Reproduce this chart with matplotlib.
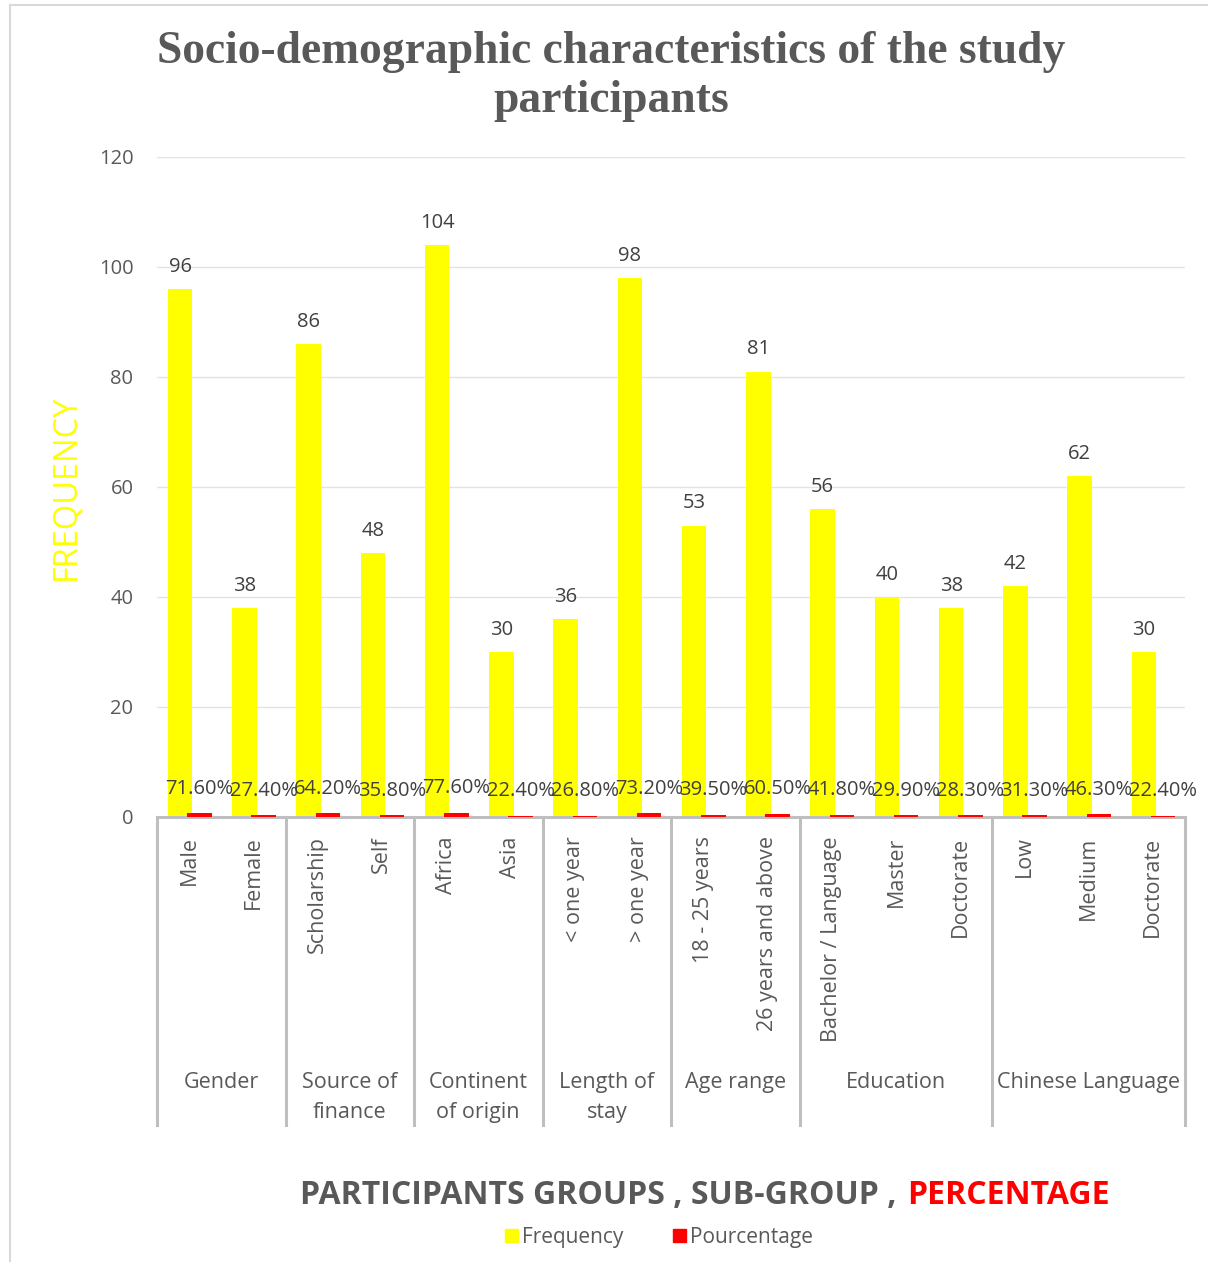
import numpy as np
import matplotlib
matplotlib.use("Agg")
import matplotlib.pyplot as plt
from matplotlib.patches import Patch
from matplotlib.lines import Line2D

# data
subgroups = ["Male", "Female", "Scholarship", "Self", "Africa", "Asia",
             "< one year", "> one year", "18 - 25 years", "26 years and above",
             "Bachelor / Language", "Master", "Doctorate", "Low", "Medium", "Doctorate"]
frequency = [96, 38, 86, 48, 104, 30, 36, 98, 53, 81, 56, 40, 38, 42, 62, 30]
percentage = [0.716, 0.274, 0.642, 0.358, 0.776, 0.224, 0.268, 0.732,
              0.395, 0.605, 0.418, 0.299, 0.283, 0.313, 0.463, 0.224]
groups = ["Gender", "Source of\nfinance", "Continent\nof origin", "Length of\nstay",
          "Age range", "Education", "Chinese Language"]
group_sizes = [2, 2, 2, 2, 2, 3, 3]
title_lines = ["Socio-demographic characteristics of the study", "participants"]

W, H = 1208, 1262
TXT = "#595959"
LBL = "#404040"
AX = "#bfbfbf"

plt.rcParams["font.family"] = ["Open Sans", "DejaVu Sans"]

fig = plt.figure(figsize=(W / 100, H / 100), dpi=100)
ax = fig.add_axes([157 / W, (H - 817) / H, (1185 - 157) / W, 660 / H])

x = np.arange(len(subgroups))
ax.bar(x - 0.14, frequency, width=0.38, color="#FFFF00", zorder=2)
ax.bar(x + 0.16, percentage, width=0.38, color="#FF0000", zorder=3)

for xi, f, p in zip(x, frequency, percentage):
    ax.annotate(str(f), (xi - 0.14, f), xytext=(0, 12.5), textcoords="offset points",
                ha="center", va="baseline", fontsize=14.5, color=LBL)
    ax.annotate(f"{p * 100:.2f}%", (xi + 0.16, p), xytext=(0, 14), textcoords="offset points",
                ha="center", va="baseline", fontsize=14.5, color=LBL, zorder=4)

ax.set_xlim(-0.5, len(subgroups) - 0.5)
ax.set_ylim(0, 120)
ax.set_yticks(np.arange(0, 121, 20))
ax.grid(axis="y", color="#e3e3e3", lw=1, zorder=0)
ax.set_axisbelow(True)
for s in ["top", "right", "left"]:
    ax.spines[s].set_visible(False)
ax.spines["bottom"].set_color(AX)
ax.spines["bottom"].set_linewidth(2.2)
ax.tick_params(axis="y", length=0, pad=17, labelsize=14.5, labelcolor=TXT)
ax.set_xticks(x)
ax.set_xticklabels(subgroups, rotation=90, va="top", ha="center")
ax.tick_params(axis="x", length=0, pad=14, labelsize=15.5, labelcolor=TXT)

# group labels and separator lines
trans = ax.get_xaxis_transform()
bounds = np.concatenate([[0], np.cumsum(group_sizes)]) - 0.5
for b in bounds:
    ax.add_line(Line2D([b, b], [0, -0.467], transform=trans, color=AX, lw=2.2, clip_on=False))
for g, lo, hi in zip(groups, bounds[:-1], bounds[1:]):
    ax.text((lo + hi) / 2, -0.387, g, transform=trans, ha="center", va="top",
            fontsize=15.5, color=TXT, linespacing=1.55)

ax.set_ylabel("FREQUENCY", color="#FFFF00", fontsize=23.5)
ax.yaxis.set_label_coords((82 - 157) / 1028, (817 - 487) / 660)

# title
for i, line in enumerate(title_lines):
    fig.text(611 / W, 1 - (52 + 49 * i) / H, line, ha="center", va="center",
             fontsize=32.8, fontweight="bold", color=TXT, family="Liberation Serif")

# x axis title, two colours
xt_font = ["Liberation Sans Narrow", "Open Sans"]
fig.text(897 / W, 1 - 1195 / H, "PARTICIPANTS GROUPS , SUB-GROUP ,", ha="right", va="center",
         fontsize=23, fontweight="bold", color=TXT, family=xt_font)
fig.text(907 / W, 1 - 1195 / H, "PERCENTAGE", ha="left", va="center",
         fontsize=23, fontweight="bold", color="#FF0000", family=xt_font)

handles = [Patch(color="#FFFF00", label="Frequency"), Patch(color="#FF0000", label="Pourcentage")]
fig.legend(handles=handles, loc="center", bbox_to_anchor=(659 / W, 1 - 1237 / H), ncol=2,
           frameon=False, fontsize=15, labelcolor=TXT, handlelength=0.6, handleheight=0.6,
           handletextpad=0.2, columnspacing=2.4)

# outer frame
fig.add_artist(Line2D([10 / W, 10 / W], [0, 1 - 5 / H], color="#d9d9d9", lw=1.5))
fig.add_artist(Line2D([10 / W, 1], [1 - 5 / H, 1 - 5 / H], color="#d9d9d9", lw=1.5))

fig.savefig("out.png", dpi=100)
